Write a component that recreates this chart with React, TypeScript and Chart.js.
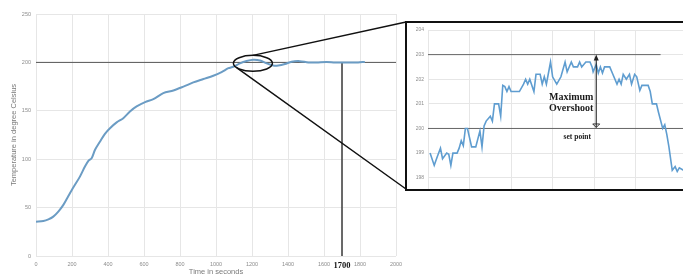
import React, { useEffect, useRef } from "react";
import { Chart, registerables } from "chart.js";
Chart.register(...registerables);

// ---------- main chart data ----------
const mainTime = [0, 41, 69, 96, 124, 152, 180, 207, 244, 272, 291, 309, 328, 356, 383, 411, 448, 485, 522, 559, 606, 652, 707, 763, 819, 874, 930, 985, 1031, 1069, 1096, 1133, 1170, 1207, 1244, 1281, 1318, 1346, 1383, 1420, 1466, 1513, 1559, 1614, 1661, 1707, 1753, 1790, 1827];
const mainTemp = [35.5, 36.2, 37.9, 40.7, 45.9, 52.8, 62, 70.7, 82, 92.4, 98.3, 101, 109.7, 118.3, 126.2, 132, 138, 142.4, 149.3, 154.5, 159, 162, 168.3, 171, 175, 179.3, 182.8, 186.2, 190, 194, 195.5, 199, 201.4, 202.7, 202, 199, 196.8, 196.8, 198.3, 200.7, 201.3, 200, 200, 200.5, 200, 200, 200, 200, 200.5];
const mainXTicks = [0, 200, 400, 600, 800, 1000, 1200, 1400, 1600, 1800, 2000];
const mainYTicks = [0, 50, 100, 150, 200, 250];
const setPoint = 200;
const settleTime = 1700;
const zoomCenterTime = 1205;
const zoomCenterTemp = 199;

// ---------- inset data ----------
const insetTime = [1121, 1123, 1124.5, 1126, 1127, 1129, 1130, 1131, 1132, 1134, 1135, 1136, 1137, 1138, 1139, 1141, 1143, 1145, 1146, 1147, 1148, 1150, 1151, 1152, 1154, 1155, 1156, 1157, 1158, 1159, 1160, 1164, 1166, 1167, 1168, 1169, 1171, 1172, 1174, 1175, 1176, 1177, 1179, 1180, 1182, 1184, 1186, 1187, 1189, 1190, 1192, 1193, 1194, 1196, 1198, 1199, 1199.5, 1201, 1202, 1203, 1204, 1205, 1207.5, 1209, 1211, 1212, 1213, 1214, 1215.5, 1217, 1218, 1219.5, 1220.5, 1222, 1223, 1226, 1227, 1228, 1230, 1231, 1233, 1234, 1235, 1236, 1237, 1237.6, 1239, 1240, 1241, 1243, 1245, 1247];
const insetTemp = [199, 198.5, 198.86, 199.2, 198.77, 199, 198.95, 198.5, 199, 199, 199.2, 199.5, 199.3, 200, 200, 199.25, 199.25, 199.9, 199.25, 200.1, 200.3, 200.5, 200.3, 201, 201, 200.5, 201.75, 201.7, 201.5, 201.7, 201.5, 201.5, 201.8, 202, 201.8, 202, 201.5, 202.2, 202.2, 201.8, 202.1, 201.8, 202.7, 202.1, 201.8, 202.1, 202.7, 202.3, 202.7, 202.5, 202.5, 202.7, 202.5, 202.7, 202.7, 202.5, 202.3, 202.6, 202.25, 202.5, 202.25, 202.5, 202.5, 202.2, 201.8, 202, 201.8, 202.2, 202, 202.2, 201.8, 202.2, 202.1, 201.55, 201.75, 201.75, 201.5, 201, 201, 200.65, 200, 200.15, 199.75, 199.25, 198.65, 198.3, 198.45, 198.25, 198.4, 198.3, 198.45, 198.3];
const insetYTicks = [198, 199, 200, 201, 202, 203, 204];
const peakTemp = 203;
const peakTime = 1201;
const insetXMin = 1120;
const insetXMax = 1250;
const peakLineEnd = 1232;

// ---------- layout constants ----------
const W = 683;
const H = 279;
const BOX_LEFT = 405;
const BOX_TOP = 21;
const BOX_H = 170;
const BOX_W = 295;
const INSET_EXTRA = 8;
const SANS = "'Liberation Sans', Arial, sans-serif";
const SERIF = "'Liberation Serif', 'Times New Roman', serif";
const GRID = "#e6e6e6";
const TICK = "#8c8c8c";

const zoomPlugin = {
  id: "zoomMark",
  afterDraw(chart: any) {
    const { ctx, scales } = chart;
    const cx = scales.x.getPixelForValue(zoomCenterTime);
    const cy = scales.y.getPixelForValue(zoomCenterTemp);
    const rx = 19.5;
    const ry = 8;
    ctx.save();
    ctx.strokeStyle = "#111";
    ctx.lineWidth = 1.5;
    ctx.beginPath();
    ctx.ellipse(cx, cy, rx, ry, 0, 0, Math.PI * 2);
    ctx.stroke();
    ctx.beginPath();
    ctx.moveTo(cx, cy - ry);
    ctx.lineTo(BOX_LEFT + 1, BOX_TOP + 1);
    ctx.moveTo(cx - 0.82 * rx, cy + 0.57 * ry);
    ctx.lineTo(BOX_LEFT + 1, BOX_TOP + BOX_H - 2);
    ctx.stroke();
    ctx.restore();
  },
};

const arrowPlugin = {
  id: "overshootArrow",
  afterDatasetsDraw(chart: any) {
    const { ctx, scales } = chart;
    const ax = scales.x.getPixelForValue(peakTime);
    const yt = scales.y.getPixelForValue(peakTemp);
    const yb = scales.y.getPixelForValue(setPoint);
    ctx.save();
    ctx.strokeStyle = "#222";
    ctx.fillStyle = "#222";
    ctx.lineWidth = 1.1;
    ctx.beginPath();
    ctx.moveTo(ax, yt + 3);
    ctx.lineTo(ax, yb - 1);
    ctx.stroke();
    ctx.beginPath();
    ctx.moveTo(ax, yt);
    ctx.lineTo(ax - 2.5, yt + 6);
    ctx.lineTo(ax + 2.5, yt + 6);
    ctx.closePath();
    ctx.fill();
    ctx.lineWidth = 0.9;
    ctx.beginPath();
    ctx.moveTo(ax - 3.5, yb - 4.5);
    ctx.lineTo(ax + 3.5, yb - 4.5);
    ctx.lineTo(ax, yb - 1);
    ctx.closePath();
    ctx.stroke();
    ctx.fillStyle = "#1a1a1a";
    ctx.textAlign = "center";
    ctx.textBaseline = "middle";
    ctx.font = `bold 10px ${SERIF}`;
    ctx.fillText("Maximum", ax - 25, yb - 31);
    ctx.fillText("Overshoot", ax - 25, yb - 20);
    ctx.font = `bold 7.5px ${SERIF}`;
    ctx.fillText("set point", ax - 19, yb + 9);
    ctx.restore();
  },
};

export default function App() {
  const mainRef = useRef<HTMLCanvasElement>(null);
  const insetRef = useRef<HTMLCanvasElement>(null);

  useEffect(() => {
    const mainData = mainTime.map((t, i) => ({ x: t, y: mainTemp[i] }));
    const main = new Chart(mainRef.current!, {
      type: "line",
      data: {
        datasets: [
          {
            data: mainData,
            borderColor: "#6b9cc4",
            borderWidth: 2,
            pointRadius: 0,
            tension: 0.3,
            order: 0,
          },
          {
            data: [
              { x: 0, y: setPoint },
              { x: 2000, y: setPoint },
            ],
            borderColor: "#555",
            borderWidth: 1,
            pointRadius: 0,
            order: 1,
          },
          {
            data: [
              { x: settleTime, y: setPoint },
              { x: settleTime, y: 0 },
            ],
            borderColor: "#555",
            borderWidth: 1,
            pointRadius: 0,
            order: 1,
          },
        ],
      },
      options: {
        animation: false,
        responsive: false,
        maintainAspectRatio: false,
        layout: { padding: { top: 14, right: W - 396, left: 0, bottom: 0 } },
        plugins: { legend: { display: false }, tooltip: { enabled: false } },
        scales: {
          x: {
            type: "linear",
            min: 0,
            max: 2000,
            afterBuildTicks: (s: any) => {
              s.ticks = [...mainXTicks, settleTime]
                .sort((a, b) => a - b)
                .map((v) => ({ value: v }));
            },
            afterFit: (s: any) => {
              s.height = 23;
            },
            ticks: {
              autoSkip: false,
              maxRotation: 0,
              padding: 5,
              callback: (v: any) => String(v),
              font: (c: any) =>
                c.tick && c.tick.value === settleTime
                  ? { family: SERIF, size: 8.5, weight: "bold" }
                  : { family: SANS, size: 5.5 },
              color: (c: any) => (c.tick && c.tick.value === settleTime ? "#111" : TICK),
            },
            grid: {
              drawTicks: false,
              color: (c: any) => (c.tick && c.tick.value === settleTime ? "rgba(0,0,0,0)" : GRID),
            },
            border: { display: false },
            title: {
              display: true,
              text: "Time in seconds",
              color: "#7a7a7a",
              font: { family: SANS, size: 7.5 },
              padding: { top: 0, bottom: 3 },
            },
          },
          y: {
            min: 0,
            max: 250,
            afterBuildTicks: (s: any) => {
              s.ticks = mainYTicks.map((v) => ({ value: v }));
            },
            afterFit: (s: any) => {
              s.width = 36;
            },
            ticks: {
              padding: 5,
              color: TICK,
              font: { family: SANS, size: 5.5 },
              callback: (v: any) => String(v),
            },
            grid: { drawTicks: false, color: GRID },
            border: { display: false },
            title: {
              display: true,
              text: "Temperature in degree Celsius",
              color: "#7a7a7a",
              font: { family: SANS, size: 7.5 },
              padding: { top: 9, bottom: 0 },
            },
          },
        },
      },
      plugins: [zoomPlugin],
    } as any);

    const insetData = insetTime.map((t, i) => ({ x: t, y: insetTemp[i] }));
    const inset = new Chart(insetRef.current!, {
      type: "line",
      data: {
        datasets: [
          {
            data: insetData,
            borderColor: "#5f9dd0",
            borderWidth: 1.6,
            pointRadius: 0,
            tension: 0,
            order: 0,
          },
          {
            data: [
              { x: insetXMin, y: peakTemp },
              { x: peakLineEnd, y: peakTemp },
            ],
            borderColor: "#666",
            borderWidth: 1,
            pointRadius: 0,
            order: 1,
          },
          {
            data: [
              { x: insetXMin, y: setPoint },
              { x: insetXMax, y: setPoint },
            ],
            borderColor: "#666",
            borderWidth: 1,
            pointRadius: 0,
            order: 1,
          },
        ],
      },
      options: {
        animation: false,
        responsive: false,
        maintainAspectRatio: false,
        layout: { padding: { top: 7, right: 0, left: 0, bottom: 0 } },
        plugins: { legend: { display: false }, tooltip: { enabled: false } },
        scales: {
          x: {
            type: "linear",
            min: insetXMin,
            max: insetXMax,
            ticks: { display: false, stepSize: 20 },
            grid: { drawTicks: false, color: GRID },
            border: { display: false },
            afterFit: (s: any) => {
              s.height = 0;
            },
          },
          y: {
            min: 197.5,
            max: 204,
            afterBuildTicks: (s: any) => {
              s.ticks = insetYTicks.map((v) => ({ value: v }));
            },
            afterFit: (s: any) => {
              s.width = 21;
            },
            ticks: {
              padding: 4,
              color: TICK,
              font: { family: SANS, size: 5 },
              callback: (v: any) => String(v),
            },
            grid: { drawTicks: false, color: GRID },
            border: { display: false },
          },
        },
      },
      plugins: [arrowPlugin],
    } as any);

    return () => {
      main.destroy();
      inset.destroy();
    };
  }, []);

  return (
    <div
      style={{
        position: "fixed",
        left: 0,
        top: 0,
        width: W,
        height: H,
        overflow: "hidden",
        background: "#fff",
      }}
    >
      <canvas
        ref={mainRef}
        width={W}
        height={H}
        style={{ position: "absolute", left: 0, top: 0, width: W, height: H }}
      />
      <div
        style={{
          position: "absolute",
          left: BOX_LEFT,
          top: BOX_TOP,
          width: BOX_W,
          height: BOX_H,
          border: "2px solid #111",
          boxSizing: "border-box",
          background: "#fff",
          overflow: "hidden",
        }}
      >
        <canvas
          ref={insetRef}
          width={BOX_W - 4}
          height={BOX_H - 4 + INSET_EXTRA}
          style={{ display: "block", width: BOX_W - 4, height: BOX_H - 4 + INSET_EXTRA }}
        />
      </div>
    </div>
  );
}
